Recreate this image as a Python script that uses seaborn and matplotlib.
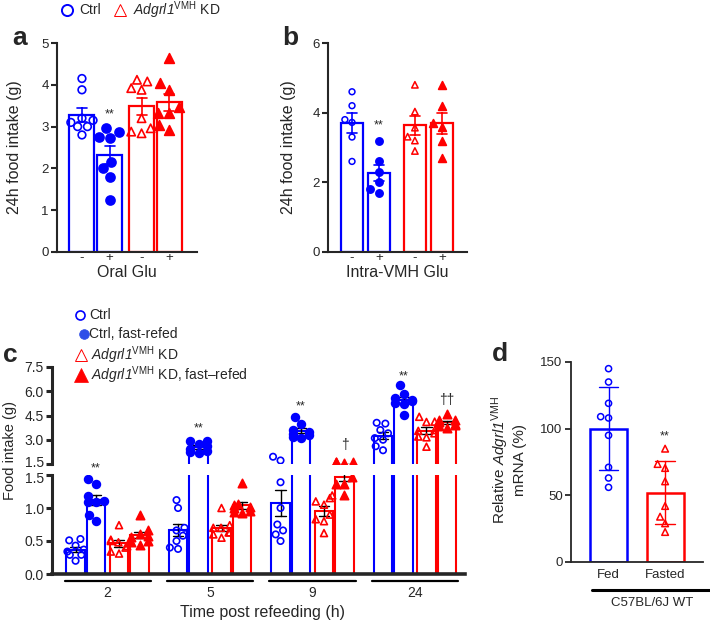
import numpy as np
import pandas as pd
import matplotlib.pyplot as plt
import matplotlib.transforms as mtrans
from matplotlib.lines import Line2D
import seaborn as sns

sns.set_style('ticks')
plt.rcParams['font.family'] = ['Liberation Sans', 'DejaVu Sans']
plt.rcParams['mathtext.fontset'] = 'custom'
plt.rcParams['mathtext.rm'] = 'Liberation Sans'
plt.rcParams['mathtext.it'] = 'Liberation Sans:italic'
plt.rcParams['mathtext.sf'] = 'Liberation Sans:italic'
plt.rcParams['mathtext.bf'] = 'Liberation Sans:bold'

BLUE = '#0000ff'
RED = '#ff0000'
KD = r'$\mathsf{Adgrl1}^{\mathrm{VMH}}$'

# a: 24h food intake, oral glutamate -/+
a_ticks = ['-', '+', '-', '+']
a_ctrl_veh = [4.15, 3.88, 3.15, 3.2, 3.1, 3.0, 3.0, 2.8]
a_ctrl_glu = [2.96, 2.86, 2.76, 2.72, 2.16, 2.0, 1.8, 1.24]
a_kd_veh = [4.12, 4.08, 3.92, 3.88, 3.2, 2.96, 2.88, 2.84]
a_kd_glu = [4.64, 4.04, 3.88, 3.48, 3.32, 3.32, 3.04, 2.92]

# b: 24h food intake, intra-VMH glutamate -/+
b_ticks = ['-', '+', '-', '+']
b_ctrl_veh = [4.6, 4.2, 3.8, 3.72, 3.3, 2.6]
b_ctrl_glu = [3.2, 2.61, 2.3, 2.02, 1.8, 1.7]
b_kd_veh = [4.8, 4.03, 3.57, 3.31, 3.2, 2.9]
b_kd_glu = [4.8, 4.19, 3.69, 3.6, 3.19, 2.69]

# c: food intake post refeeding, one list per time point (2, 5, 9, 24 h)
c_hours = ['2', '5', '9', '24']
c_ctrl = [[0.53, 0.51, 0.43, 0.37, 0.34, 0.29, 0.29, 0.2],
          [1.12, 1.0, 0.7, 0.66, 0.58, 0.5, 0.4, 0.38],
          [1.95, 1.72, 1.39, 1.0, 0.75, 0.66, 0.6, 0.5],
          [4.05, 4.0, 3.6, 3.4, 3.1, 3.0, 2.6, 2.35]]
c_ctrl_fr = [[1.44, 1.36, 1.18, 1.1, 1.09, 1.09, 0.9, 0.8],
             [2.95, 2.9, 2.75, 2.6, 2.45, 2.3, 2.25, 2.15],
             [4.4, 3.95, 3.6, 3.5, 3.35, 3.3, 3.15, 3.1],
             [6.4, 5.85, 5.6, 5.45, 5.4, 5.3, 5.2, 4.55]]
c_kd = [[0.74, 0.52, 0.5, 0.48, 0.42, 0.4, 0.34, 0.31],
        [1.0, 0.74, 0.7, 0.7, 0.63, 0.63, 0.6, 0.55],
        [1.19, 1.15, 1.1, 1.05, 0.9, 0.83, 0.8, 0.62],
        [4.42, 4.12, 4.1, 3.6, 3.55, 3.4, 3.2, 3.15, 2.57]]
c_kd_fr = [[0.9, 0.66, 0.6, 0.58, 0.56, 0.5, 0.48, 0.44],
           [1.38, 1.06, 1.05, 1.01, 1.0, 0.96, 0.94, 0.92],
           [1.62, 1.6, 1.6, 1.55, 1.47, 1.36, 1.36, 1.19],
           [4.6, 4.25, 4.2, 4.1, 3.95, 3.9, 3.85, 3.7]]

# d: relative mRNA (%), C57BL/6J WT
d_ticks = ['Fed', 'Fasted']
d_fed = [145, 135, 119, 109, 108, 95, 71, 63, 56]
d_fasted = [85, 73.5, 70.5, 60.5, 42, 34, 29, 22.5]


def long(xs, groups):
    return pd.DataFrame({'x': np.repeat(xs, [len(g) for g in groups]),
                         'y': np.concatenate(groups)})


def bars(ax, xs, groups, color, width, cap, err='se', ecolor=None, lw=1.6, elw=1.2):
    nw = np.min(np.diff(sorted(xs))) if len(xs) > 1 else 1
    sns.barplot(data=long(xs, groups), x='x', y='y', native_scale=True, fill=False,
                color=color, saturation=1, errorbar=err, capsize=cap / nw,
                width=width / nw, linewidth=lw,
                err_kws={'color': ecolor or color, 'linewidth': elw}, ax=ax)


def dots(ax, x, vals, color, marker, filled, size, lw=1.2):
    if len(vals) == 0:
        return
    sns.swarmplot(data=long([x], [vals]), x='x', y='y', native_scale=True,
                  color=color, marker=marker, size=size,
                  facecolor=color if filled else 'none', edgecolor=color,
                  linewidth=lw, warn_thresh=1, ax=ax)


W, H = 710, 623
fig = plt.figure(figsize=(7.1, 6.23), dpi=100)


def add_ax(x0, y0, x1, y1):
    return fig.add_axes([x0 / W, 1 - y1 / H, (x1 - x0) / W, (y1 - y0) / H])


def ftext(x, y, s, **kw):
    kw.setdefault('ha', 'center')
    kw.setdefault('va', 'center')
    return fig.text(x / W, 1 - y / H, s, **kw)


def style(ax, lw=1.5, size=9.5):
    sns.despine(ax=ax)
    for sp in ax.spines.values():
        sp.set_linewidth(lw)
    ax.tick_params(axis='y', length=4, width=lw, labelsize=size, pad=2)
    ax.tick_params(axis='x', length=0, labelsize=size)
    ax.set_xlabel('')
    ax.set_ylabel('')


ax_a = add_ax(57, 43, 197, 252)
ax_b = add_ax(328, 43, 467, 252)
ax_cl = add_ax(52, 475, 465, 574)
ax_cu = add_ax(52, 367, 465, 464)
ax_d = add_ax(571, 362, 703, 562)

# ---- a ----
a_pos = [0, 1, 2.15, 3.15]
bars(ax_a, a_pos[:2], [a_ctrl_veh, a_ctrl_glu], BLUE, 0.9, 0.36)
bars(ax_a, a_pos[2:], [a_kd_veh, a_kd_glu], RED, 0.9, 0.36)
dots(ax_a, a_pos[0], a_ctrl_veh, BLUE, 'o', False, 5.5)
dots(ax_a, a_pos[1], a_ctrl_glu, BLUE, 'o', True, 6.5)
dots(ax_a, a_pos[2], a_kd_veh, RED, '^', False, 6)
dots(ax_a, a_pos[3], a_kd_glu, RED, '^', True, 7)
ax_a.set(xlim=(-0.9, 4.15), ylim=(0, 5), yticks=range(6))
ax_a.set_xticks(a_pos, a_ticks)
style(ax_a)
ax_a.tick_params(axis='x', labelsize=9.5, pad=0)
ax_a.text(a_pos[1], 3.28, '**', ha='center', va='center', fontsize=9)

# ---- b ----
b_pos = [0, 1, 2.33, 3.33]
bars(ax_b, b_pos[:2], [b_ctrl_veh, b_ctrl_glu], BLUE, 0.82, 0.37)
bars(ax_b, b_pos[2:], [b_kd_veh, b_kd_glu], RED, 0.82, 0.37)
dots(ax_b, b_pos[0], b_ctrl_veh, BLUE, 'o', False, 4.2, 1.1)
dots(ax_b, b_pos[1], b_ctrl_glu, BLUE, 'o', True, 5.2)
dots(ax_b, b_pos[2], b_kd_veh, RED, '^', False, 4.6, 1.1)
dots(ax_b, b_pos[3], b_kd_glu, RED, '^', True, 5.6)
ax_b.set(xlim=(-0.89, 4.26), ylim=(0, 6), yticks=[0, 2, 4, 6])
ax_b.set_xticks(b_pos, b_ticks)
style(ax_b)
ax_b.tick_params(axis='x', labelsize=9.5, pad=0)
ax_b.text(b_pos[1], 3.62, '**', ha='center', va='center', fontsize=9)

# ---- c (broken y axis: lower 0-1.5, upper 1.5-7.5) ----
c_off = [-1.56, -0.56, 0.56, 1.56]
c_series = [(c_ctrl, BLUE, 'o', False, 4.6),
            (c_ctrl_fr, BLUE, 'o', True, 5.6),
            (c_kd, RED, '^', False, 5.0),
            (c_kd_fr, RED, '^', True, 6.0)]
for ax, upper in ((ax_cu, True), (ax_cl, False)):
    ax.patch.set_visible(False)
    for k, (data, col, mk, filled, sz) in enumerate(c_series):
        xs = [5 * g + c_off[k] for g in range(4)]
        bars(ax, xs, data, col, 0.9, 0.5, ecolor='k', lw=1.5, elw=1.0)
        for x, vals in zip(xs, data):
            part = [v for v in vals if (v >= 1.5) == upper]
            dots(ax, x, part, col, mk, filled, sz)
ax_cl.set(xlim=(-2.71, 17.44), ylim=(0, 1.5))
ax_cl.set_yticks([0, 0.5, 1.0, 1.5], ['0.0', '0.5', '1.0', '1.5'])
ax_cl.set_xticks([])
ax_cu.set(xlim=(-2.71, 17.44), ylim=(1.5, 7.5))
ax_cu.set_yticks([1.5, 3.0, 4.5, 6.0, 7.5], ['1.5', '3.0', '4.5', '6.0', '7.5'])
ax_cu.set_xticks([])
style(ax_cl, lw=2.2, size=10)
style(ax_cu, lw=2.2, size=10)
ax_cu.spines['bottom'].set_visible(False)
ax_cl.spines['bottom'].set_linewidth(2.6)
# nudge the two "1.5" labels at the break apart
lab_up = ax_cu.get_yticklabels()[0]
lab_up.set_transform(lab_up.get_transform() + mtrans.ScaledTranslation(0, 2.5 / 100, fig.dpi_scale_trans))
lab_lo = ax_cl.get_yticklabels()[-1]
lab_lo.set_transform(lab_lo.get_transform() + mtrans.ScaledTranslation(0, -2.5 / 100, fig.dpi_scale_trans))

tr = mtrans.blended_transform_factory(ax_cl.transData, ax_cl.transAxes)
for g, lab in enumerate(c_hours):
    ax_cl.plot([5 * g - 2.1, 5 * g + 2.1], [-0.072, -0.072], transform=tr,
               color='k', lw=1.6, clip_on=False)
    ax_cl.text(5 * g, -0.19, lab, transform=tr, ha='center', va='center', fontsize=10)

ax_cl.text(5 * 0 + c_off[1], 1.6, '**', ha='center', va='center', fontsize=9, clip_on=False)
ax_cu.text(5 * 1 + c_off[1], 3.73, '**', ha='center', va='center', fontsize=9)
ax_cu.text(5 * 2 + c_off[1], 5.09, '**', ha='center', va='center', fontsize=9)
ax_cu.text(5 * 2 + c_off[3], 2.68, '\u2020', ha='center', va='center', fontsize=10)
ax_cu.text(5 * 3 + c_off[1], 6.9, '**', ha='center', va='center', fontsize=9)
ax_cu.text(5 * 3 + c_off[3], 5.46, '\u2020\u2020', ha='center', va='center', fontsize=10)

# ---- d ----
bars(ax_d, [0], [d_fed], BLUE, 0.655, 0.35, err='sd', lw=1.8, elw=1.0)
bars(ax_d, [1], [d_fasted], RED, 0.655, 0.35, err='sd', lw=1.8, elw=1.0)
dots(ax_d, 0, d_fed, BLUE, 'o', False, 4.4, 1.1)
dots(ax_d, 1, d_fasted, RED, '^', False, 4.8, 1.1)
ax_d.set(xlim=(-0.664, 1.67), ylim=(0, 150), yticks=[0, 50, 100, 150])
ax_d.set_xticks([0, 1], d_ticks)
style(ax_d, lw=1.3)
ax_d.tick_params(axis='x', labelsize=9.5, pad=5)
ax_d.text(1, 94, '**', ha='center', va='center', fontsize=9)
ax_d.plot([0.159, 1.06], [-0.14, -0.14], transform=ax_d.transAxes, color='k',
          lw=2.2, clip_on=False)
ax_d.text(0.614, -0.205, 'C57BL/6J WT', transform=ax_d.transAxes, ha='center',
          va='center', fontsize=9.5)

# ---- axis labels ----
ftext(15, 147, '24h food intake (g)', rotation=90, fontsize=11.5)
ftext(127, 272, 'Oral Glu', fontsize=11.5)
ftext(288, 147, '24h food intake (g)', rotation=90, fontsize=11.5)
ftext(397, 272, 'Intra-VMH Glu', fontsize=11.5)
ftext(10, 451, 'Food intake (g)', rotation=90, fontsize=10.5)
ftext(262, 612, 'Time post refeeding (h)', fontsize=11.5)
ftext(508, 460, 'Relative ' + KD + '\nmRNA (%)', rotation=90, fontsize=11,
      multialignment='center')

# ---- panel letters ----
for x, y, s in [(12, 45, 'a'), (282, 45, 'b'), (3, 362, 'c'), (492, 361, 'd')]:
    ftext(x, y, s, ha='left', va='baseline', fontsize=19, fontweight='bold')


# ---- legends ----
def entry(x, y, marker, filled, color, ms, mew, tx, label):
    fig.add_artist(Line2D([x / W], [1 - y / H], transform=fig.transFigure,
                          marker=marker, ms=ms, ls='none', mec=color, mew=mew,
                          mfc=color if filled else 'none'))
    ftext(tx, y, label, ha='left', fontsize=10)


entry(67, 10, 'o', False, BLUE, 8, 1.4, 79, 'Ctrl')
entry(120, 10, '^', False, RED, 9, 0.7, 133, KD + ' KD')
entry(80, 315, 'o', False, BLUE, 6.5, 1.2, 89, 'Ctrl')
entry(84, 334, 'o', True, '#2f4fe8', 7, 0.5, 89, 'Ctrl, fast-refed')
entry(81, 355, '^', False, RED, 9, 0.7, 91, KD + ' KD')
entry(81, 375, '^', True, RED, 9.5, 0.5, 91, KD + ' KD, fast\u2013refed')

fig.savefig('out.png', dpi=100)
